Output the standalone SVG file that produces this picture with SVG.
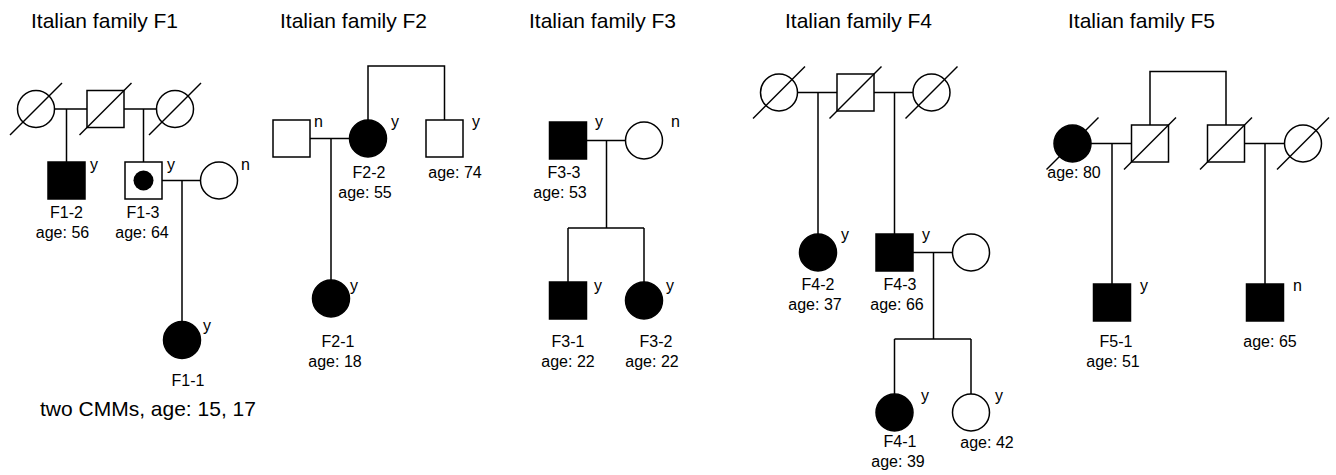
<svg xmlns="http://www.w3.org/2000/svg" width="1336" height="475" viewBox="0 0 1336 475">
<style>
.ln{stroke:#000;stroke-width:1.5;fill:none}
.op{fill:#fff;stroke:#000;stroke-width:1.5}
.af{fill:#000;stroke:#000;stroke-width:1.5}
.sl{stroke:#000;stroke-width:1.5}
text{font-family:"Liberation Sans",Arial,sans-serif;font-size:16px;fill:#000}
.m{text-anchor:middle}
.ti{font-size:21px}
</style>
<rect width="1336" height="475" fill="#fff"/>
<g id="titles">
<text class="ti" x="31" y="28">Italian family F1</text>
<text class="ti" x="280" y="28">Italian family F2</text>
<text class="ti" x="529" y="28">Italian family F3</text>
<text class="ti" x="785" y="28">Italian family F4</text>
<text class="ti" x="1068" y="28">Italian family F5</text>
</g>
<g id="connectors">
<path class="ln" d="M54.5,109H87M124,109H156.5M66.5,109V162M143.5,109V162M162,180.5H200.5M182,180.5V321.5"/>
<path class="ln" d="M310,138.5H349.5M331,138.5V280M368,120V66H444.5V120"/>
<path class="ln" d="M586,140.5H625.5M606.5,140.5V228M568,228H644M568,228V282M644,228V282"/>
<path class="ln" d="M797.5,92.5H837M874,92.5H913M818,92.5V234M894.5,92.5V234M913,252.5H952.5M933.5,252.5V339M894.5,339H971M894.5,339V394M971,339V394"/>
<path class="ln" d="M1091,143.5H1131.5M1244.5,143.5H1284.5M1112,143.5V284M1265,143.5V284M1150,125V71.5H1226V125"/>
</g>
<g id="F1">
<g id="F1-gm1"><circle class="op" cx="36" cy="109" r="18.5"/><line class="sl" x1="10" y1="135" x2="62" y2="83"/></g>
<g id="F1-gf"><rect class="op" x="87" y="90.5" width="37" height="37"/><line class="sl" x1="79.5" y1="135" x2="131.5" y2="83"/></g>
<g id="F1-gm2"><circle class="op" cx="175" cy="109" r="18.5"/><line class="sl" x1="149" y1="135" x2="201" y2="83"/></g>
<g id="F1-2"><rect class="af" x="48" y="162" width="37" height="37"/><text x="90" y="170">y</text><text class="m" x="66.5" y="218">F1-2</text><text class="m" x="62.5" y="238">age: 56</text></g>
<g id="F1-3"><rect class="op" x="125" y="162" width="37" height="37"/><circle cx="143.5" cy="180.5" r="10" fill="#000"/><text x="167" y="170">y</text><text class="m" x="143" y="218">F1-3</text><text class="m" x="142" y="238">age: 64</text></g>
<g id="F1-sp"><circle class="op" cx="219" cy="180.5" r="18.5"/><text x="241" y="170">n</text></g>
<g id="F1-1"><circle class="af" cx="182" cy="340" r="18.5"/><text x="203" y="331">y</text><text class="m" x="188" y="386">F1-1</text><text x="40" y="416" class="ti">two CMMs, age: 15, 17</text></g>
</g>
<g id="F2">
<g id="F2-sp"><rect class="op" x="273" y="120" width="37" height="37"/><text x="314" y="127">n</text></g>
<g id="F2-2"><circle class="af" cx="368" cy="138.5" r="18.5"/><text x="391" y="127">y</text><text class="m" x="369" y="178">F2-2</text><text class="m" x="365" y="198">age: 55</text></g>
<g id="F2-br"><rect class="op" x="426" y="120" width="37" height="37"/><text x="472" y="127">y</text><text class="m" x="455" y="178">age: 74</text></g>
<g id="F2-1"><circle class="af" cx="331" cy="298.5" r="18.5"/><text x="350" y="291">y</text><text class="m" x="338" y="347">F2-1</text><text class="m" x="335" y="367">age: 18</text></g>
</g>
<g id="F3">
<g id="F3-3"><rect class="af" x="549.5" y="122" width="37" height="37"/><text x="595" y="127">y</text><text class="m" x="564" y="178">F3-3</text><text class="m" x="560" y="198">age: 53</text></g>
<g id="F3-sp"><circle class="op" cx="644" cy="140.5" r="18.5"/><text x="671" y="127">n</text></g>
<g id="F3-1"><rect class="af" x="549.5" y="282" width="37" height="37"/><text x="594" y="291">y</text><text class="m" x="568" y="347">F3-1</text><text class="m" x="568" y="367">age: 22</text></g>
<g id="F3-2"><circle class="af" cx="644" cy="300.5" r="18.5"/><text x="666" y="291">y</text><text class="m" x="656" y="347">F3-2</text><text class="m" x="652" y="367">age: 22</text></g>
</g>
<g id="F4">
<g id="F4-gm1"><circle class="op" cx="779" cy="92.5" r="18.5"/><line class="sl" x1="753" y1="118.5" x2="805" y2="66.5"/></g>
<g id="F4-gf"><rect class="op" x="837" y="74" width="37" height="37"/><line class="sl" x1="829.5" y1="118.5" x2="881.5" y2="66.5"/></g>
<g id="F4-gm2"><circle class="op" cx="931.5" cy="92.5" r="18.5"/><line class="sl" x1="905.5" y1="118.5" x2="957.5" y2="66.5"/></g>
<g id="F4-2"><circle class="af" cx="818" cy="252.5" r="18.5"/><text x="841" y="240">y</text><text class="m" x="818" y="290">F4-2</text><text class="m" x="815" y="310">age: 37</text></g>
<g id="F4-3"><rect class="af" x="876" y="234" width="37" height="37"/><text x="922" y="240">y</text><text class="m" x="900" y="290">F4-3</text><text class="m" x="897" y="310">age: 66</text></g>
<g id="F4-sp"><circle class="op" cx="971" cy="252.5" r="18.5"/></g>
<g id="F4-1"><circle class="af" cx="894.5" cy="412.5" r="18.5"/><text x="921" y="401">y</text><text class="m" x="900" y="447">F4-1</text><text class="m" x="898" y="467">age: 39</text></g>
<g id="F4-sib"><circle class="op" cx="971" cy="412.5" r="18.5"/><text x="995" y="401">y</text><text class="m" x="987" y="448">age: 42</text></g>
</g>
<g id="F5">
<g id="F5-gm1"><circle class="af" cx="1072.5" cy="143.5" r="18.5"/><line class="sl" x1="1046.5" y1="169.5" x2="1098.5" y2="117.5"/><text class="m" x="1074" y="178">age: 80</text></g>
<g id="F5-f1"><rect class="op" x="1131.5" y="125" width="37" height="37"/><line class="sl" x1="1124" y1="169.5" x2="1176" y2="117.5"/></g>
<g id="F5-f2"><rect class="op" x="1207.5" y="125" width="37" height="37"/><line class="sl" x1="1200" y1="169.5" x2="1252" y2="117.5"/></g>
<g id="F5-m2"><circle class="op" cx="1303" cy="143.5" r="18.5"/><line class="sl" x1="1277" y1="169.5" x2="1329" y2="117.5"/></g>
<g id="F5-1"><rect class="af" x="1093.5" y="284" width="37" height="37"/><text x="1140" y="291">y</text><text class="m" x="1116" y="347">F5-1</text><text class="m" x="1113" y="367">age: 51</text></g>
<g id="F5-c"><rect class="af" x="1246.5" y="284" width="37" height="37"/><text x="1293" y="291">n</text><text class="m" x="1270" y="347">age: 65</text></g>
</g>
</svg>
